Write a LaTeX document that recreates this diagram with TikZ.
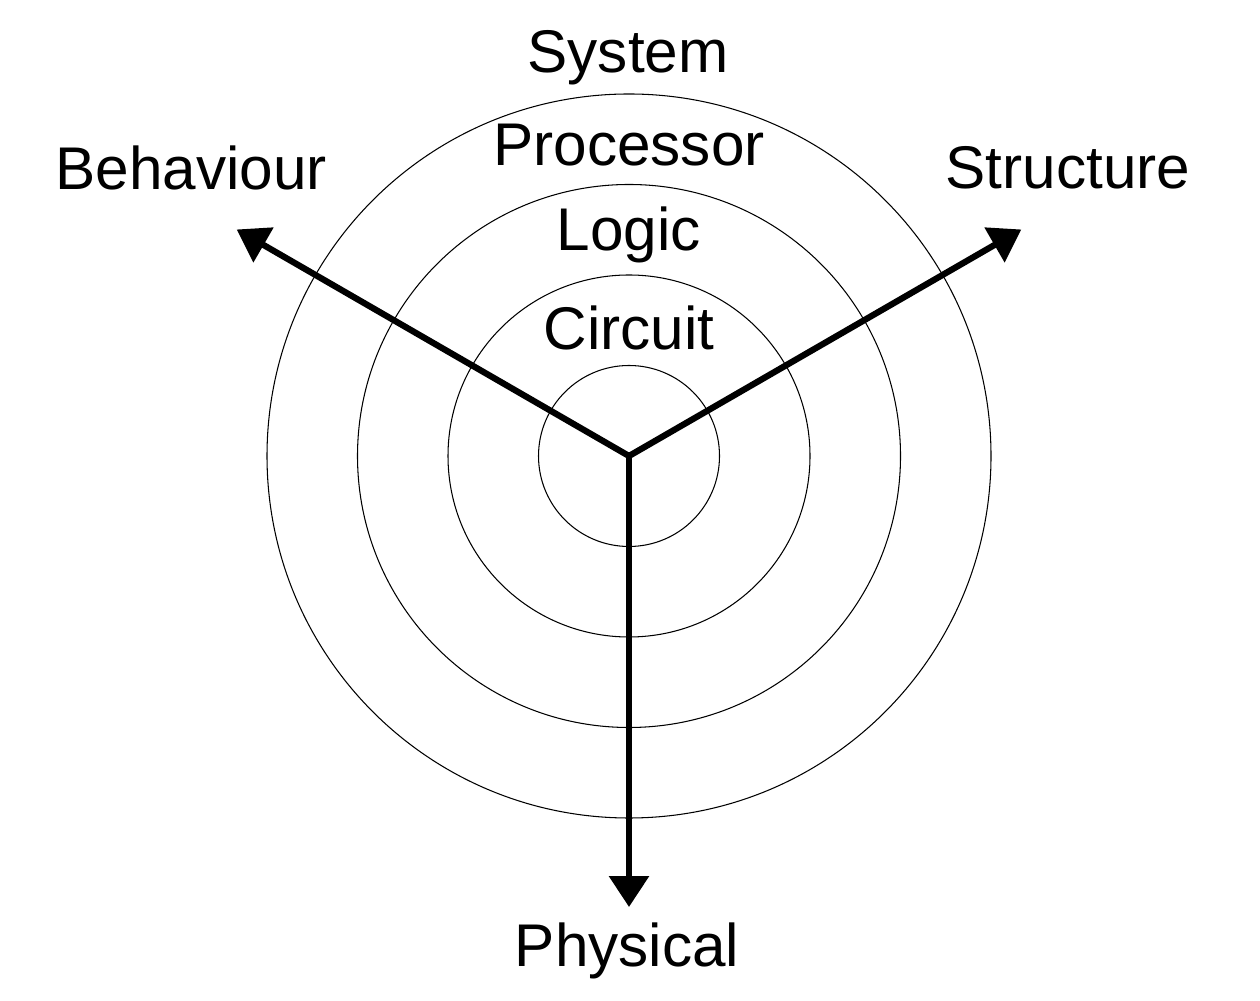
\documentclass[tikz,border=0pt]{standalone}
\usepackage{fontspec}
\setmainfont{Liberation Sans}
\usetikzlibrary{arrows.meta,calc}

\tikzset{
    axis/.style={line width=0.125cm, line join=miter, -{Triangle[length=0.62cm, width=0.78cm]}},
    level/.style={line width=0.6pt},
    lbl/.style={anchor=base, inner sep=0pt, font=\fontsize{34.3}{40}\selectfont}
}

\begin{document}
\begin{tikzpicture}[x=0.02cm, y=0.02cm]

\useasboundingbox (0,0) rectangle (1260,1000);

\coordinate (centre) at (629,544);

\foreach \r in {1,2,3,4}
    \draw[level] (centre) circle[radius=90.5*\r];

\coordinate (behavtip) at ($(centre)+(150:453)$);
\coordinate (structtip) at ($(centre)+(30:453)$);
\coordinate (phystip) at ($(centre)+(270:451)$);

\draw[axis] (centre) -- (behavtip);
\draw[axis] (centre) -- (structtip);
\draw[axis] (centre) -- (phystip);

\node[lbl] (system) at (628,927) {System};
\node[lbl] (processor) at (629,834) {Processor};
\node[lbl] (logic) at (629,749) {Logic};
\node[lbl] (circuit) at (629,650) {Circuit};

\node[lbl] (behaviour) at (191,810) {Behaviour};
\node[lbl] (structure) at (1068,811) {Structure};
\node[lbl] (physical) at (627,33) {Physical};

\end{tikzpicture}
\end{document}
